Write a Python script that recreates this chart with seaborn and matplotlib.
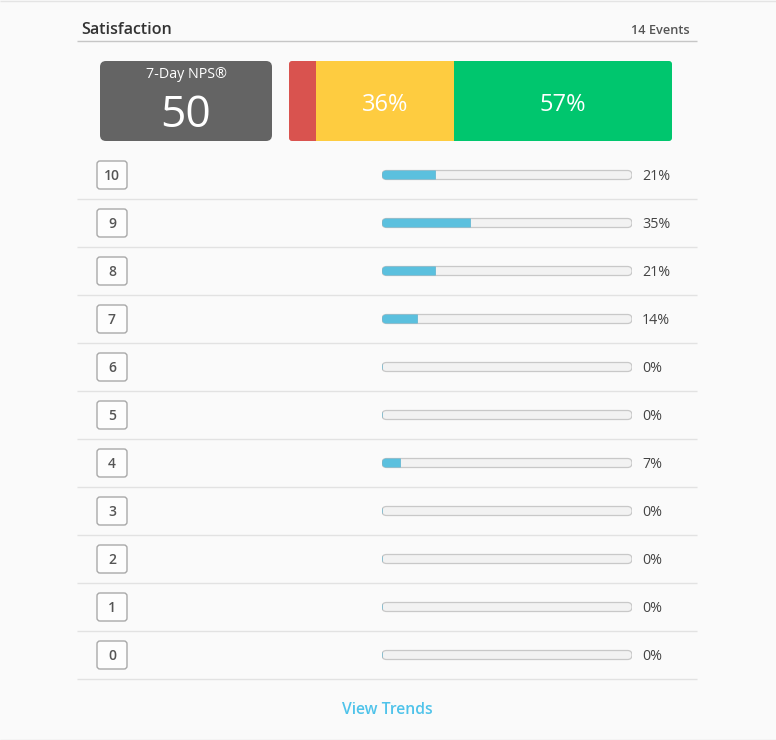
import matplotlib.pyplot as plt
import matplotlib.patches as mpatches
import seaborn as sns
import numpy as np
import pandas as pd

# ── Data ─────────────────────────────────────────────────────────────────────
scores     = ["10", "9", "8", "7", "6", "5", "4", "3", "2", "1", "0"]
score_pct  = [21, 35, 21, 14, 0, 0, 7, 0, 0, 0, 0]
groups     = ["Detractors", "Passives", "Promoters"]
group_pct  = [7, 36, 57]
nps_value  = 50
n_events   = 14

# ── Palette ──────────────────────────────────────────────────────────────────
BG        = "#fafafa"
DARK      = "#333333"
GREY_TXT  = "#555555"
NPS_BG    = "#646464"
GROUP_COL = ["#d9534f", "#fecc40", "#00c66e"]
BLUE      = "#5bc0de"
TRACK     = "#f2f2f2"
TRACK_EDGE = "#c8c8c8"
LINK      = "#4fc3ea"
FONT      = ["Open Sans", "DejaVu Sans"]

sns.set_style("white")
plt.rcParams["font.family"] = FONT

W, H = 776, 740
fig = plt.figure(figsize=(W / 100, H / 100), dpi=100, facecolor=BG)

bg = fig.add_axes([0, 0, 1, 1])
bg.set_xlim(0, W)
bg.set_ylim(H, 0)
bg.axis("off")
bg.set_facecolor(BG)


def px_axes(x0, y0, x1, y1):
    ax = fig.add_axes([x0 / W, 1 - y1 / H, (x1 - x0) / W, (y1 - y0) / H])
    ax.set_facecolor("none")
    return ax


# ── Frame & header ───────────────────────────────────────────────────────────
bg.hlines(0.5, 0, W, color="#e4e4e4", lw=1)
bg.hlines(739.5, 0, W, color="#dcdcdc", lw=1)
bg.text(81, 30, "Satisfaction", fontsize=11.6, fontweight="semibold",
        color=DARK, va="center", ha="left")
bg.text(690, 30.5, f"{n_events} Events", fontsize=9.2, fontweight="semibold",
        color=GREY_TXT, va="center", ha="right")
bg.hlines(40.5, 77, 697, color="#c6c6c6", lw=1)

# ── NPS card ─────────────────────────────────────────────────────────────────
bg.add_patch(mpatches.FancyBboxPatch(
    (100, 61), 172, 80, boxstyle="round,pad=0,rounding_size=6",
    fc=NPS_BG, ec="none"))
bg.text(186, 75, "7-Day NPS®", fontsize=10.3, color="white",
        ha="center", va="center")
bg.text(186, 116, str(nps_value), fontsize=32, color="white",
        ha="center", va="center", fontweight="normal")

# ── Stacked group bar ───────────────────────────────────────────────────────
sax = px_axes(289, 61, 672, 141)
clip = mpatches.FancyBboxPatch(
    (289, 61), 383, 80, boxstyle="round,pad=0,rounding_size=3",
    fc="none", ec="none", transform=bg.transData)
left = 0
for g, v, c in zip(groups, group_pct, GROUP_COL):
    bars = sax.barh(0, v, left=left, height=1, color=c, edgecolor="none")
    for b in bars:
        b.set_clip_path(clip)
    if v >= 10:
        sax.text(left + v / 2, -0.05, f"{v}%", color="white", fontsize=17,
                 ha="center", va="center", fontweight="normal")
    left += v
sax.set_xlim(0, 100)
sax.set_ylim(-0.5, 0.5)
sax.axis("off")

# ── Score rows ───────────────────────────────────────────────────────────────
row_top, row_h = 151, 48
bax = px_axes(382, row_top, 632, row_top + row_h * len(scores))
df = pd.DataFrame({"score": scores, "pct": score_pct, "full": 100})

sns.barplot(data=df, x="full", y="score", order=scores, orient="h",
            color=TRACK, width=0.1875, ax=bax, saturation=1)
sns.barplot(data=df, x="pct", y="score", order=scores, orient="h",
            color=BLUE, width=0.1875, ax=bax, saturation=1)

n = len(scores)
track_patches = list(bax.patches[:n])
value_patches = list(bax.patches[n:])
rounded = []
for p in track_patches:
    x, y, w, h = p.get_x(), p.get_y(), p.get_width(), p.get_height()
    p.remove()
    rp = mpatches.FancyBboxPatch(
        (x, y), w, h, boxstyle="round,pad=0,rounding_size=1.8",
        mutation_aspect=0.052, fc=TRACK, ec=TRACK_EDGE, lw=0.9,
        transform=bax.transData, zorder=1)
    bax.add_patch(rp)
    rounded.append(rp)
for p, rp in zip(value_patches, rounded):
    p.set_zorder(2)
    p.set_edgecolor("#48abcc")
    p.set_linewidth(0.4)
    p.set_clip_path(rp)

for i, v in enumerate(score_pct):
    bax.text(104, i + 0.025, f"{v}%", fontsize=10.3, color="#444444",
             ha="left", va="center")

bax.set_xlim(0, 100)
bax.axis("off")

for i, s in enumerate(scores):
    cy = row_top + row_h / 2 + row_h * i
    bg.add_patch(mpatches.FancyBboxPatch(
        (97, cy - 14), 30, 28, boxstyle="round,pad=0,rounding_size=3",
        fc="#fdfdfd", ec="#a9a9a9", lw=1))
    bg.text(112, cy + 1.2, s, fontsize=10, color=GREY_TXT,
            ha="center", va="center", fontweight="semibold")
    bg.hlines(row_top + row_h * (i + 1) - 0.5, 77, 697,
              color="#e2e2e2", lw=1)

# ── Footer link ──────────────────────────────────────────────────────────────
bg.text(387, 709.5, "View Trends", fontsize=11.3, color=LINK,
        fontweight="semibold", ha="center", va="center")

plt.savefig("out.png", dpi=100, facecolor=BG)
